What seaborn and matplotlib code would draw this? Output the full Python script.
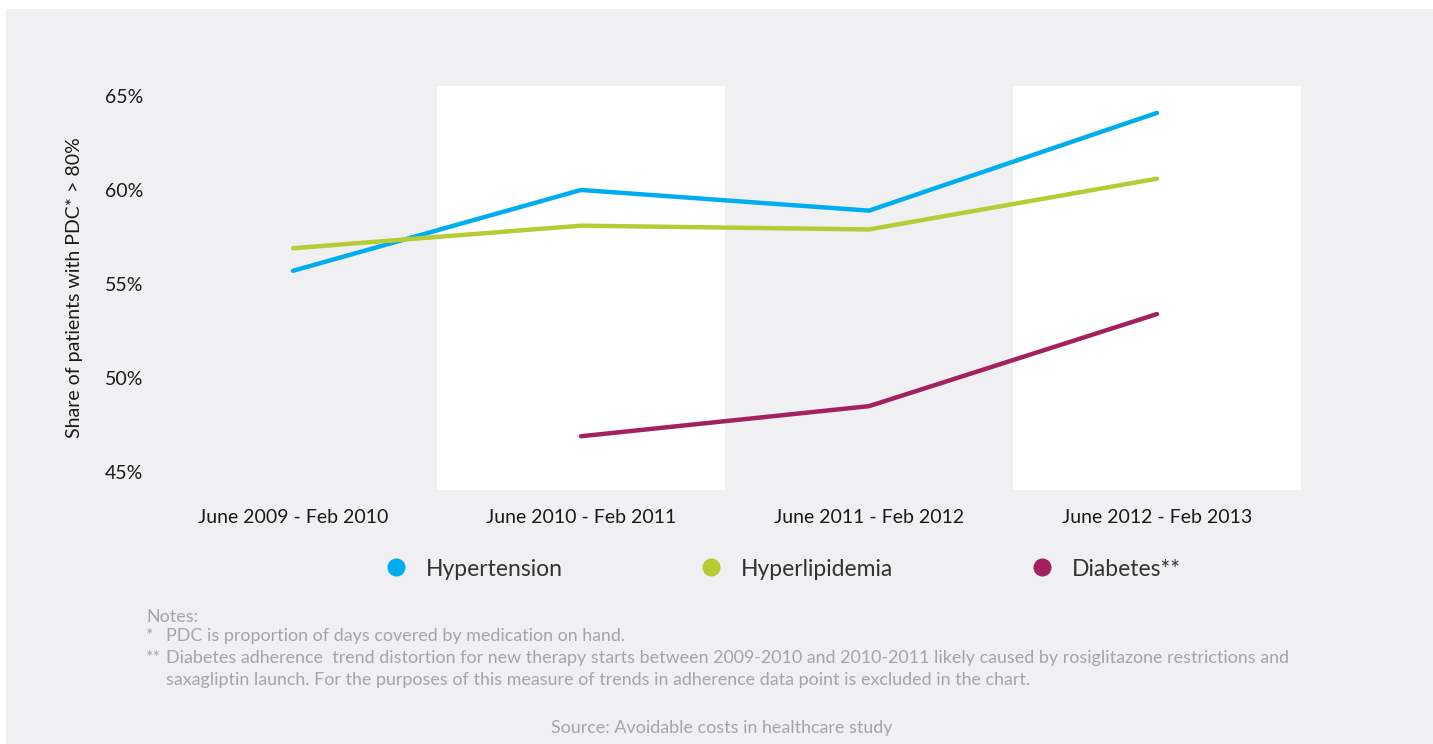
import numpy as np
import pandas as pd
import matplotlib
matplotlib.use("Agg")
import matplotlib.pyplot as plt
from matplotlib.lines import Line2D
from matplotlib.patches import Rectangle
import seaborn as sns

periods = ["June 2009 - Feb 2010", "June 2010 - Feb 2011",
           "June 2011 - Feb 2012", "June 2012 - Feb 2013"]
hypertension = [55.7, 60.0, 58.9, 64.1]
hyperlipidemia = [56.9, 58.1, 57.9, 60.6]
diabetes = [np.nan, 46.9, 48.5, 53.4]
series_names = ["Hypertension", "Hyperlipidemia", "Diabetes**"]
colors = ["#00aeef", "#b5cc34", "#a3215e"]
ytick_vals = [45, 50, 55, 60, 65]

rows = []
for name, vals in zip(series_names, [hypertension, hyperlipidemia, diabetes]):
    for i, v in enumerate(vals):
        if not np.isnan(v):
            rows.append({"pos": i, "value": v, "series": name})
df = pd.DataFrame(rows)

sns.set_theme(style="white")
plt.rcParams["font.family"] = ["Lato", "DejaVu Sans"]

fig = plt.figure(figsize=(14.33, 7.44), dpi=100)
fig.patch.set_facecolor("white")
fig.patches.append(Rectangle((6 / 1433, 0), 1 - 6 / 1433, 1 - 9 / 744,
                             transform=fig.transFigure, facecolor="#f0f0f2",
                             edgecolor="none", zorder=-10))

ax = fig.add_axes([149 / 1433, 1 - 490 / 744, (1301 - 149) / 1433, (490 - 86) / 744])
ax.set_facecolor("none")
for k in range(len(periods)):
    if k % 2 == 1:
        ax.axvspan(k - 0.5, k + 0.5, color="white", zorder=0, lw=0)

sns.lineplot(data=df, x="pos", y="value", hue="series", hue_order=series_names,
             palette=colors, linewidth=3.2, ax=ax, legend=False, zorder=3)

ax.set_xlim(-0.5, len(periods) - 0.5)
ax.set_ylim(44.04, 65.53)
ax.set_xticks(range(len(periods)))
ax.set_xticklabels(periods, fontsize=14, color="#1a1a1a")
ax.set_yticks(ytick_vals)
ax.set_yticklabels([f"{v}%" for v in ytick_vals], fontsize=14, color="#1a1a1a")
ax.tick_params(axis="x", length=0, pad=14)
ax.tick_params(axis="y", length=0, pad=4)
ax.set_xlabel("")
ax.set_ylabel("Share of patients with PDC* > 80%", fontsize=14, color="#1a1a1a", labelpad=16)
for s in ax.spines.values():
    s.set_visible(False)

handles = [Line2D([], [], marker="o", linestyle="none", markersize=12,
                  markerfacecolor=c, markeredgecolor=c) for c in colors]
fig.legend(handles, series_names, loc="center", bbox_to_anchor=(777 / 1433, 1 - 569 / 744),
           ncol=3, frameon=False, fontsize=16.5, columnspacing=5.5, handletextpad=0.3,
           labelcolor="#333333")

note_color = "#a5a5a8"
fs = 12.9
fig.text(146 / 1433, 1 - 617 / 744, "Notes:", fontsize=fs, color=note_color, va="center")
fig.text(146 / 1433, 1 - 636 / 744, "*", fontsize=fs, color=note_color, va="center")
fig.text(166 / 1433, 1 - 636 / 744, "PDC is proportion of days covered by medication on hand.",
         fontsize=fs, color=note_color, va="center")
fig.text(146 / 1433, 1 - 658 / 744, "**", fontsize=fs, color=note_color, va="center")
fig.text(166 / 1433, 1 - 658 / 744,
         "Diabetes adherence  trend distortion for new therapy starts between 2009-2010 and 2010-2011 likely caused by rosiglitazone restrictions and",
         fontsize=fs, color=note_color, va="center")
fig.text(166 / 1433, 1 - 680 / 744,
         "saxagliptin launch. For the purposes of this measure of trends in adherence data point is excluded in the chart.",
         fontsize=fs, color=note_color, va="center")
fig.text(722 / 1433, 1 - 728 / 744, "Source: Avoidable costs in healthcare study",
         fontsize=12.9, color=note_color, va="center", ha="center")

fig.savefig("out.png", dpi=100, facecolor=fig.get_facecolor())
